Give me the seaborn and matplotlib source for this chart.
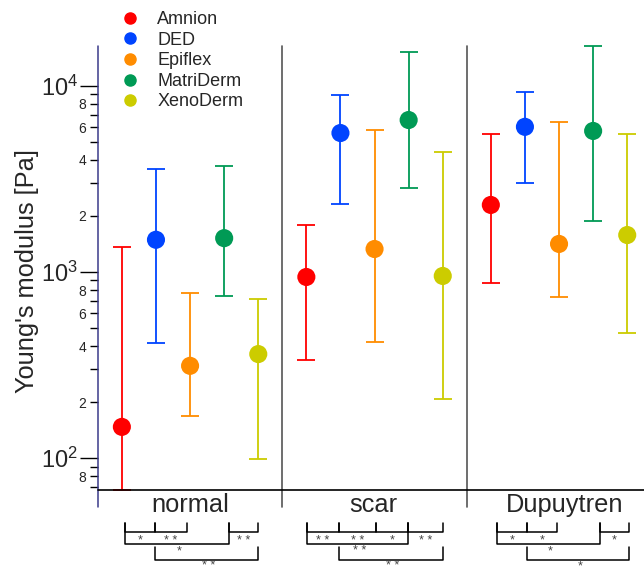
import numpy as np
import pandas as pd
import matplotlib
matplotlib.use("Agg")
import matplotlib.pyplot as plt
import matplotlib.transforms as mtransforms
from matplotlib.lines import Line2D
from matplotlib.ticker import FixedLocator, FixedFormatter
import seaborn as sns

# ---------------- data ----------------
groups = ["normal", "scar", "Dupuytren"]
materials = ["Amnion", "DED", "Epiflex", "MatriDerm", "XenoDerm"]
colors = ["#ff0000", "#0044ff", "#ff8c00", "#009a55", "#cccc00"]

normal_mean = [147, 1490, 313, 1520, 362]
normal_low = [67, 415, 168, 743, 99]
normal_high = [1362, 3580, 771, 3710, 716]

scar_mean = [940, 5585, 1329, 6560, 952]
scar_low = [336, 2322, 421, 2832, 207]
scar_high = [1790, 8960, 5796, 15240, 4415]

dup_mean = [2293, 6030, 1415, 5730, 1580]
dup_low = [873, 3010, 734, 1880, 470]
dup_high = [5520, 9290, 6400, 16400, 5520]

# significance comparisons: (material i, material j, label)
sig_normal = [(0, 1, "*"), (1, 2, "**"), (3, 4, "**"), (0, 3, "*"), (1, 4, "**")]
sig_scar = [(0, 1, "**"), (1, 2, "**"), (2, 3, "*"), (3, 4, "**"), (0, 3, "**"), (1, 4, "**")]
sig_dup = [(0, 1, "*"), (1, 2, "*"), (3, 4, "*"), (0, 3, "*"), (1, 4, "*")]

major_ticks = [100, 1000, 10000]
major_labels = [r"$\mathregular{10^{2}}$", r"$\mathregular{10^{3}}$", r"$\mathregular{10^{4}}$"]
minor_ticks = [70, 80, 90, 200, 300, 400, 500, 600, 700, 800, 900,
               2000, 3000, 4000, 5000, 6000, 7000, 8000, 9000]
minor_labels = ["", "8", "", "2", "", "4", "", "6", "", "8", "",
                "2", "", "4", "", "6", "", "8", ""]

# ---------------- layout ----------------
W, H = 644, 572
GROUP_W = 5.41
X0 = 0.7
PX_PER_UNIT = 34.1

sns.set_style("white")
plt.rcParams["font.family"] = ["Liberation Sans", "DejaVu Sans"]
plt.rcParams["mathtext.fontset"] = "custom"
plt.rcParams["mathtext.rm"] = "Liberation Sans"
plt.rcParams["mathtext.it"] = "Liberation Sans:italic"
plt.rcParams["mathtext.bf"] = "Liberation Sans:bold"

means = [normal_mean, scar_mean, dup_mean]
lows = [normal_low, scar_low, dup_low]
highs = [normal_high, scar_high, dup_high]
rows = []
for g, name in enumerate(groups):
    for j, mat in enumerate(materials):
        rows.append(dict(group=name, material=mat, g=g, j=j,
                         value=means[g][j], low=lows[g][j], high=highs[g][j]))
df = pd.DataFrame(rows)
df["x"] = df["g"] * GROUP_W + X0 + df["j"]

fig = plt.figure(figsize=(W / 100, H / 100), dpi=100)
ax_left, ax_bottom_px, ax_top_px = 98, 490, 46
ax_w_px = W - ax_left
ax = fig.add_axes([ax_left / W, 1 - ax_bottom_px / H, ax_w_px / W, (ax_bottom_px - ax_top_px) / H])
ax.set_yscale("log")
ax.set_ylim(67.3, 16400)
ax.set_xlim(0, ax_w_px / PX_PER_UNIT)

# error bars
palette = dict(zip(materials, colors))
for mat in materials:
    sub = df[df["material"] == mat]
    cont = ax.errorbar(sub["x"], sub["value"],
                       yerr=[sub["value"] - sub["low"], sub["high"] - sub["value"]],
                       fmt="none", ecolor=palette[mat], elinewidth=1.3,
                       capsize=6.6, capthick=1.3, zorder=2)
    for art in cont.get_children():
        art.set_clip_on(False)

# points
sns.scatterplot(data=df, x="x", y="value", hue="material", palette=palette,
                hue_order=materials, s=170, linewidth=0, legend=False, ax=ax,
                zorder=3, clip_on=False)

ax.set_xlabel("")
ax.set_ylabel("")
for sp in ax.spines.values():
    sp.set_visible(False)
ax.set_xticks([])

ax.yaxis.set_major_locator(FixedLocator(major_ticks))
ax.yaxis.set_major_formatter(FixedFormatter(major_labels))
ax.yaxis.set_minor_locator(FixedLocator(minor_ticks))
ax.yaxis.set_minor_formatter(FixedFormatter(minor_labels))
ax.tick_params(axis="y", which="major", length=13, width=1, color="black",
               labelsize=17, pad=1.5, left=True)
ax.tick_params(axis="y", which="minor", length=5.8, width=1, color="black",
               labelsize=10, pad=2.8, left=True)
ax.grid(False)

# frame lines
ext = -17 / (ax_bottom_px - ax_top_px)
ax.add_line(Line2D([0, 0], [ext, 1], transform=ax.transAxes, color="#3a3a8a",
                   lw=1.1, clip_on=False))
trans_x = mtransforms.blended_transform_factory(ax.transData, ax.transAxes)
for g in range(1, len(groups)):
    xs = g * GROUP_W
    ax.add_line(Line2D([xs, xs], [ext, 1], transform=trans_x, color="#555555",
                       lw=1.2, clip_on=False))
ax.add_line(Line2D([0, 1], [0, 0], transform=ax.transAxes, color="black",
                   lw=1.2, clip_on=False))

# group labels
label_shift = [0, -0.05, 0.17]
base_y = (ax_bottom_px - 512) / (ax_bottom_px - ax_top_px)
for g, name in enumerate(groups):
    ax.text(g * GROUP_W + X0 + 2 + label_shift[g], base_y, name, transform=trans_x,
            ha="center", va="baseline", fontsize=18.3)

# y label
fig.text(27 / W, 1 - 271 / H, "Young's modulus [Pa]", rotation=90,
         ha="center", va="center", fontsize=18.3)

# legend
handles = [Line2D([], [], marker="o", ls="", color=c, markersize=8) for c in colors]
fig.legend(handles, materials, loc="upper left",
           bbox_to_anchor=(121 / W, 1 - 11 / H), bbox_transform=fig.transFigure,
           frameon=False, fontsize=13, handlelength=1.0, handletextpad=1.0,
           labelspacing=0.2, borderpad=0, borderaxespad=0)

# significance brackets (figure pixel layout)
bracket_x = [[125, 155, 187, 229, 258],
             [307, 339, 376, 408, 443],
             [497, 527, 557, 600, 629]]
sigs = [sig_normal, sig_scar, sig_dup]


def fig_line(xs, ys):
    fig.add_artist(Line2D([x / W for x in xs], [1 - y / H for y in ys],
                          transform=fig.transFigure, color="black", lw=1.1))


def fig_star(x, y_base, s):
    txt = " ".join(list(s))
    fig.text(x / W, 1 - y_base / H, txt, ha="center", va="baseline",
             fontsize=9, color="#444444")


for g in range(len(groups)):
    bx = bracket_x[g]
    for (i, j, lab) in sigs[g]:
        x1, x2 = bx[i], bx[j]
        if j - i == 1:
            fig_line([x1, x1, x2, x2], [523, 532, 532, 523])
            fig_star((x1 + x2) / 2, 543.5, lab)
        elif i == 0:
            fig_line([x1, x1, x2, x2], [523, 544, 544, 523])
            fig_star((x1 + x2) / 2 + 2, 554.3, lab)
        else:
            fig_line([x1, x1, x2, x2], [547, 559.5, 559.5, 547])
            fig_star((x1 + x2) / 2 + 2, 569.0, lab)

fig.savefig("out.png", dpi=100)
